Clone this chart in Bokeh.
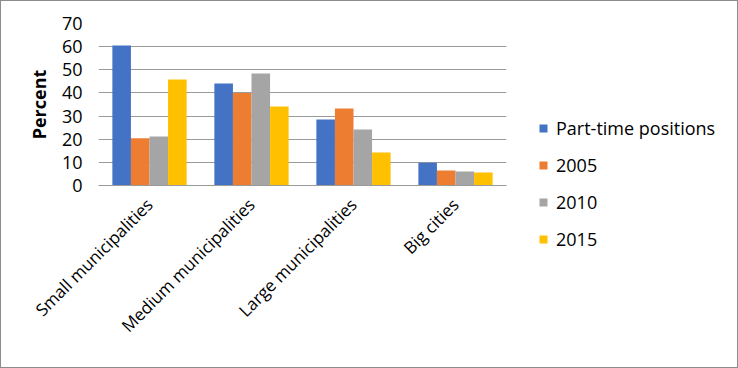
from bokeh.plotting import figure
from bokeh.models import ColumnDataSource, Legend, LegendItem, FactorRange
from bokeh.layouts import row
from bokeh.transform import dodge
from bokeh.embed import file_html
from bokeh.resources import INLINE
import math

categories = ["Small municipalities", "Medium municipalities", "Large municipalities", "Big cities"]
series_names = ["Part-time positions", "2005", "2010", "2015"]
part_time = [60.5, 44.1, 28.5, 9.8]
y2005 = [20.4, 40.0, 33.3, 6.5]
y2010 = [21.2, 48.4, 24.2, 6.0]
y2015 = [45.8, 34.1, 14.3, 5.6]
y_ticks = [0, 10, 20, 30, 40, 50, 60, 70]
colors = ["#4472C4", "#ED7D31", "#A5A5A5", "#FFC000"]

FONT = "Open Sans"
src = ColumnDataSource(dict(cat=categories, s0=part_time, s1=y2005, s2=y2010, s3=y2015))

p = figure(x_range=FactorRange(*categories), y_range=(0, 70), width=520, height=366,
           output_backend="svg", toolbar_location=None,
           min_border_left=97, min_border_right=15, min_border_top=22, min_border_bottom=182)

bw = 0.182
offsets = [-1.5 * bw, -0.5 * bw, 0.5 * bw, 1.5 * bw]
for i, key in enumerate(["s0", "s1", "s2", "s3"]):
    p.vbar(x=dodge("cat", offsets[i], range=p.x_range), top=key, width=bw, source=src,
           fill_color=colors[i], line_color=None)

p.x_range.range_padding = 0
p.outline_line_color = None
p.background_fill_color = "white"
p.border_fill_color = "white"

p.xgrid.grid_line_color = None
p.ygrid.grid_line_color = "#9A9A9A"
p.ygrid.grid_line_width = 1
p.yaxis.ticker = y_ticks

p.yaxis.axis_line_color = None
p.yaxis.major_tick_line_color = None
p.yaxis.minor_tick_line_color = None
p.yaxis.major_label_text_font = FONT
p.yaxis.major_label_text_font_size = "18px"
p.yaxis.major_label_text_color = "black"
p.yaxis.major_label_standoff = 10
p.yaxis.axis_label = "Percent"
p.yaxis.axis_label_text_font = FONT
p.yaxis.axis_label_text_font_size = "18px"
p.yaxis.axis_label_text_font_style = "bold"
p.yaxis.axis_label_text_color = "black"
p.yaxis.axis_label_standoff = 8

p.xaxis.axis_line_color = "#9A9A9A"
p.xaxis.major_tick_line_color = None
p.xaxis.minor_tick_line_color = None
p.xaxis.major_label_orientation = math.pi / 4
p.xaxis.major_label_text_font = FONT
p.xaxis.major_label_text_font_size = "17px"
p.xaxis.major_label_text_color = "black"
p.xaxis.major_label_standoff = 10

# legend panel
lp = figure(width=216, height=366, x_range=(0, 1), y_range=(0, 1), output_backend="svg",
            toolbar_location=None, x_axis_type=None, y_axis_type=None,
            min_border=0, outline_line_color=None)
lp.frame_align = False
lp.grid.visible = False
dummy = ColumnDataSource(dict(x=[-10], top=[0]))
swatches = [lp.vbar(x="x", top="top", width=0.0, source=dummy, fill_color=c, line_color=None)
            for c in colors]
legend = Legend(items=[LegendItem(label=series_names[i], renderers=[swatches[i]]) for i in range(4)],
                location=(17, 116), glyph_width=10, glyph_height=10, label_height=25,
                label_standoff=8, spacing=12, padding=0, margin=0,
                border_line_color=None, background_fill_alpha=0,
                label_text_font=FONT, label_text_font_size="18px", label_text_color="black")
lp.add_layout(legend)

layout = row(p, lp, spacing=0)
layout.styles = {"border": "1px solid #8C8C8C"}

open("out.html", "w").write(file_html(layout, INLINE))
